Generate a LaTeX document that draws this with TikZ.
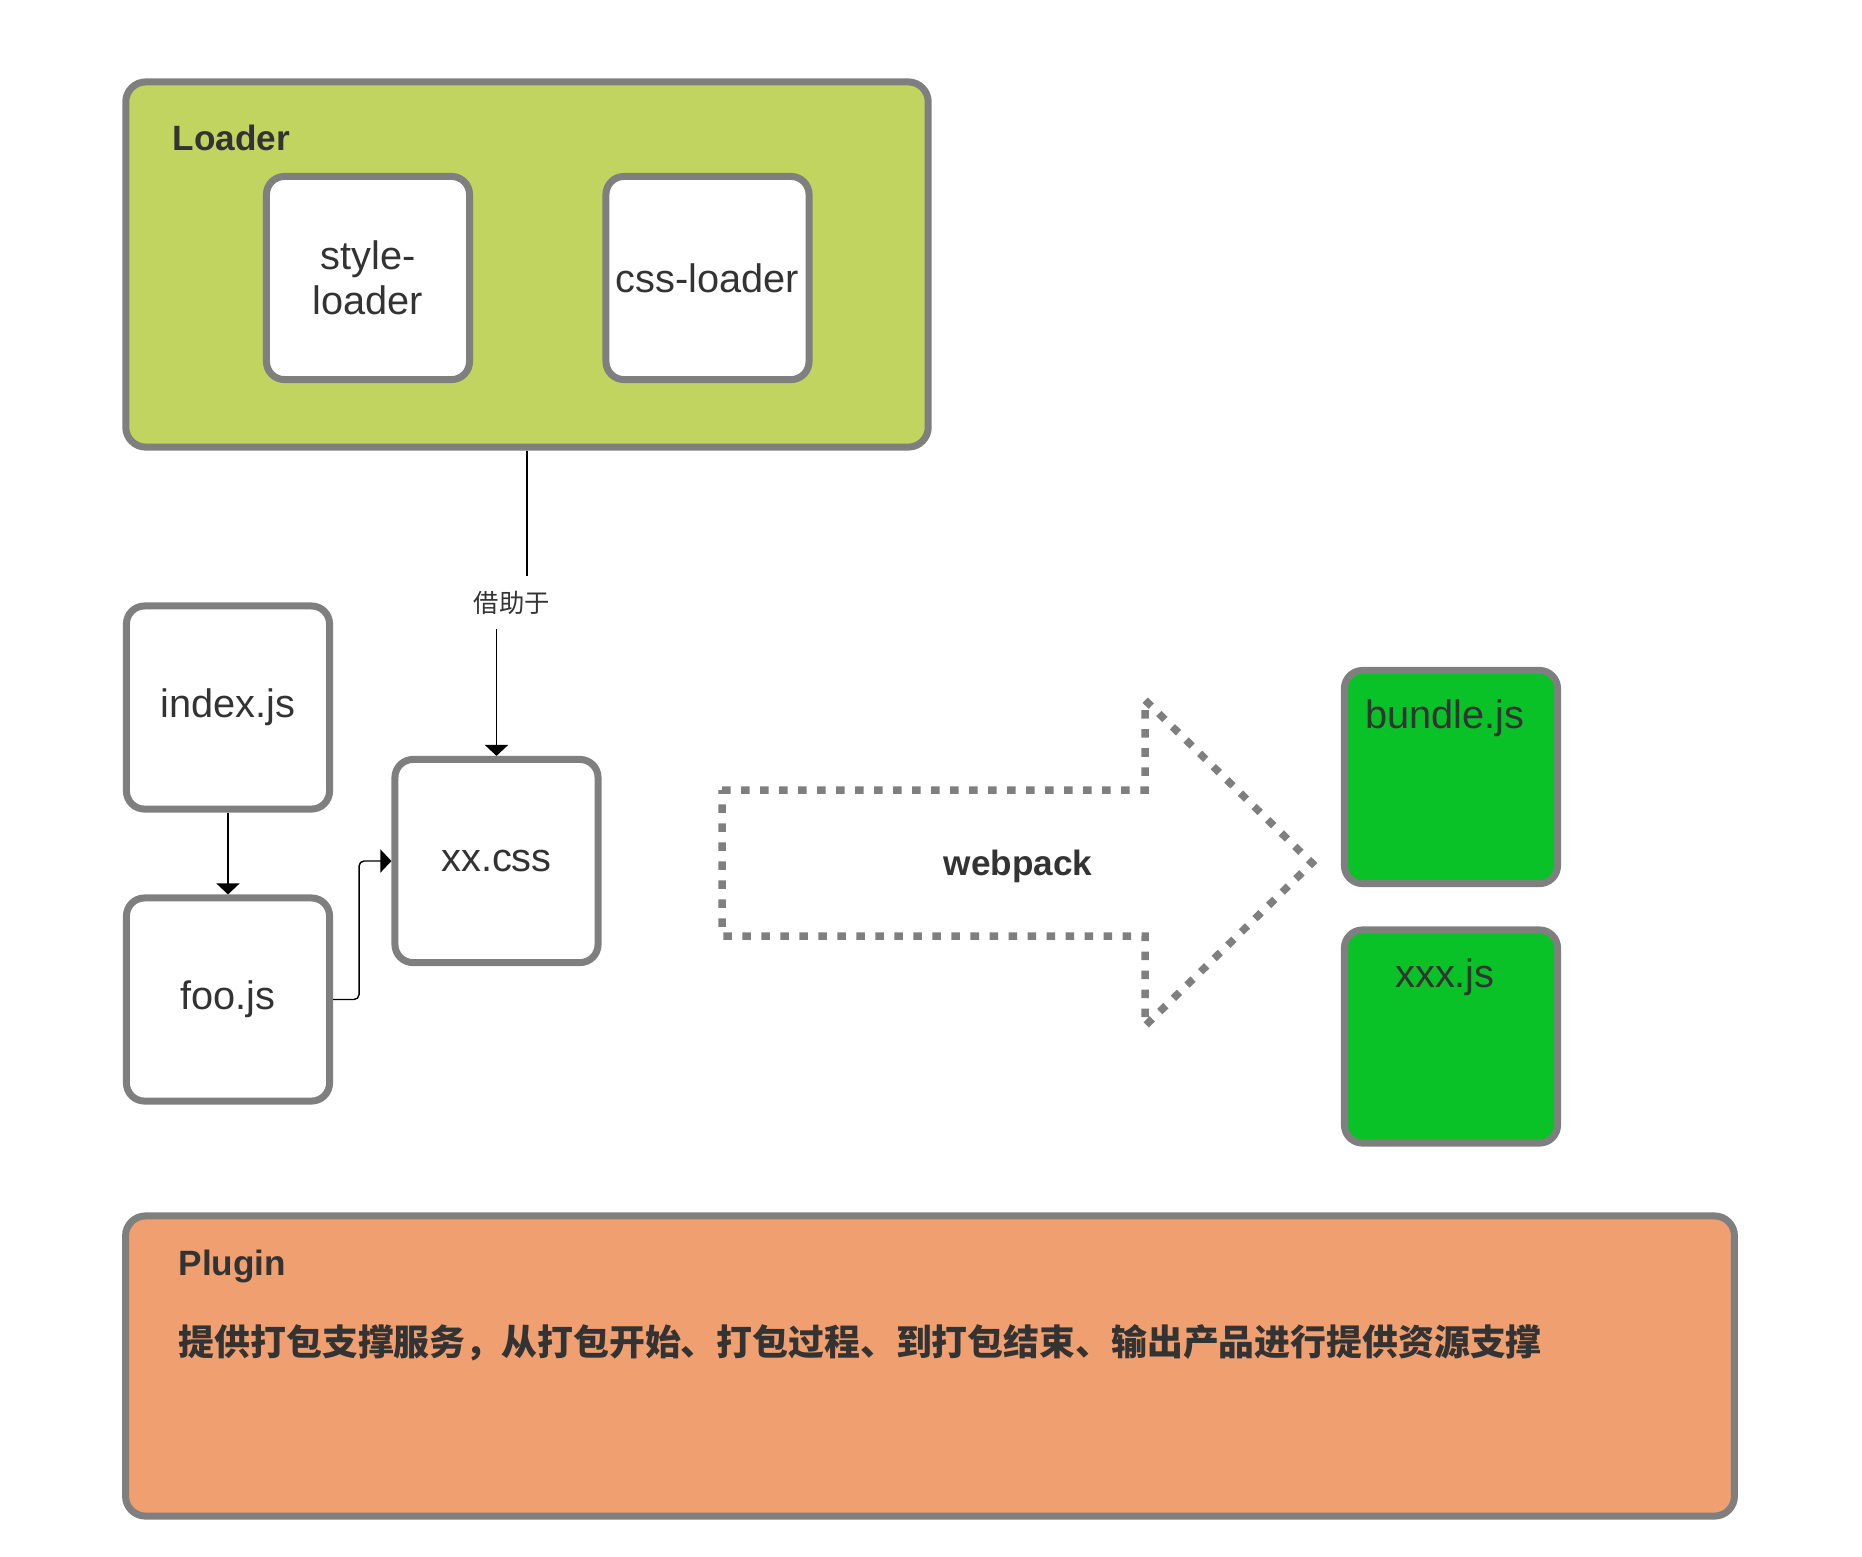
\documentclass[tikz,border=0pt]{standalone}
\usepackage{fontspec}
\setmainfont{Liberation Sans}
\newfontfamily\cjk{Noto Sans CJK SC}
\usetikzlibrary{arrows.meta,positioning}
\definecolor{edgegray}{HTML}{7F7F7F}
\definecolor{loaderbg}{HTML}{C1D45F}
\definecolor{pluginbg}{HTML}{F0A070}
\definecolor{bundlebg}{HTML}{08C228}
\definecolor{ink}{HTML}{333333}

\begin{document}
\begin{tikzpicture}[x=0.01cm,y=-0.01cm,font=\fontsize{11.3}{12.8}\selectfont,box/.style={draw=edgegray,line width=0.07cm,rounded corners=0.18cm,fill=white,text=ink,align=center,inner sep=0pt,minimum width=2.03cm,minimum height=2.03cm},outbox/.style={box,fill=bundlebg,minimum width=2.13cm,minimum height=2.13cm},title/.style={font=\bfseries\fontsize{10}{12}\selectfont,text=ink,anchor=west,inner sep=0pt},via/.style={fill=white,text=ink,font=\cjk\fontsize{7.2}{8.6}\selectfont,inner xsep=0.05cm,inner ysep=0.15cm},arr/.style={-{Triangle[width=0.23cm,length=0.11cm]},line width=0.4pt},pack/.style={draw=edgegray,line width=0.075cm,dash pattern=on 0.085cm off 0.105cm}]
\useasboundingbox (0,0) rectangle (1862,1556);
\node[box,fill=loaderbg,minimum width=8.02cm,minimum height=3.65cm,rounded corners=0.2cm] (loader) at (527,264.5) {};
\node[title] (loadertitle) at (172,138) {Loader};
\node[box] (style) at (368,278) {style-\\loader};
\node[box] (cssloader) at (707.5,278) {css-loader};
\node[box] (index) at (228,707.5) {index.js};
\node[box] (foo) at (228,999.5) {foo.js};
\node[box] (xxcss) at (496.5,861) {xx.css};
\node[outbox,label={[text=ink,anchor=center,xshift=-0.06cm,yshift=-0.51cm]north:bundle.js}] (bundle) at (1451,777) {};
\node[outbox,label={[text=ink,anchor=center,xshift=-0.06cm,yshift=-0.51cm]north:xxx.js}] (xxxjs) at (1451,1036.5) {};
\node[box,fill=pluginbg,minimum width=16.08cm,minimum height=3cm,rounded corners=0.2cm] (plugin) at (930,1366) {};
\node[title] (plugintitle) at (178,1266) {Plugin};
\node[title,font=\cjk\bfseries\fontsize{10.2}{12}\selectfont] (plugintext) at (178,1343) {提供打包支撑服务，从打包开始、打包过程、到打包结束、输出产品进行提供资源支撑};
\draw[pack] (722,790) -- (1145,790) -- (1145,700) -- (1312,863) -- (1145,1026) -- (1145,936) -- (722,936) -- cycle;
\node[font=\bfseries\fontsize{10}{12}\selectfont,text=ink] (webpack) at (1018,866) {webpack};
\draw[arr] (loader.south) -- ++(0,152) -| (xxcss.north) node[via,pos=0.25] (helper) {借助于};
\draw[arr] (index) -- (foo);
\draw[arr,rounded corners=0.05cm] (foo.east) -- ++(26,0) |- (xxcss.west);
\end{tikzpicture}
\end{document}
